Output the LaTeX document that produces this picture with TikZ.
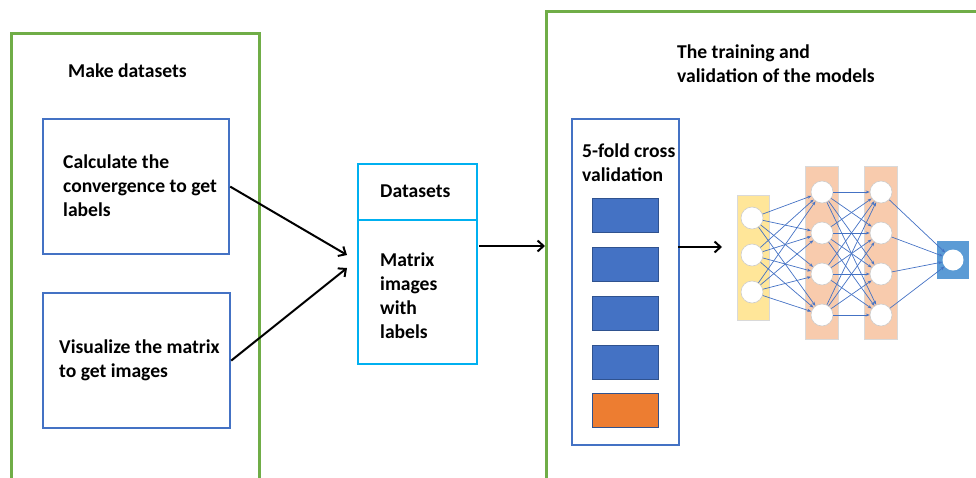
\documentclass[tikz,border=0pt]{standalone}
\usepackage{fontspec}
\setmainfont{Carlito}
\usetikzlibrary{arrows.meta,calc}
\definecolor{grn}{HTML}{70AD47}
\definecolor{bl}{HTML}{4472C4}
\definecolor{cy}{HTML}{00B0F0}
\definecolor{org}{HTML}{ED7D31}
\definecolor{yl}{HTML}{FFE699}
\definecolor{pch}{HTML}{F8CBAD}
\definecolor{obl}{HTML}{5B9BD5}
\definecolor{dbl}{HTML}{2F528F}
\tikzset{
  txt/.style={anchor=base west,align=left,inner sep=0pt,font=\fontsize{19.6}{24}\selectfont\bfseries},
  container/.style={draw=grn,line width=3pt},
  procbox/.style={draw=bl,line width=2.2pt,anchor=north west,inner sep=0pt},
  fold/.style={fill=bl,draw=dbl,line width=0.8pt,anchor=north west,minimum width=66pt,minimum height=34pt,inner sep=0pt},
  flow/.style={line width=2pt,-{Straight Barb[length=6pt,width=11pt,line width=2pt]}},
  neuron/.style={circle,fill=white,draw=black!20,line width=0.6pt,minimum size=22pt,inner sep=0pt},
  layer/.style={anchor=north west,inner sep=0pt,draw=black!15,line width=0.5pt},
  conn/.style={draw=bl,line width=0.7pt,-{Stealth[length=4pt,width=3pt]}},
}
\begin{document}
\begin{tikzpicture}[x=1pt,y=-1pt]
\useasboundingbox (0,0) rectangle (976,477);
% containers
\draw[container] (11,490) -- (11,33) -- (259,33) -- (259,490);
\draw[container] (546,490) -- (546,11) -- (990,11);
\node[txt] (t1) at (68,77) {Make datasets};
\node[txt] (t2) at (677,82) {The training and\\validation of the models};
% left boxes
\node[procbox,minimum width=186pt,minimum height=135pt] (b1) at (42,118) {};
\node[txt] (b1t) at (63,216) {Calculate the\\convergence to get\\labels};
\node[procbox,minimum width=187pt,minimum height=135pt] (b2) at (42,292) {};
\node[txt] (b2t) at (59,377) {Visualize the matrix\\to get images};
% datasets
\node[procbox,draw=cy,minimum width=119pt,minimum height=200pt] (ds) at (357,163) {};
\draw[cy,line width=2.2pt] (357,220) coordinate (dsl) -- (476,220) coordinate (dsr);
\node[txt] (dst) at (380,197) {Datasets};
\node[txt] (dsb) at (380,338) {Matrix\\images\\with\\labels};
\coordinate (in1) at (347,255);
\coordinate (in2) at (347,268);
\draw[flow] (b1.east) -- (in1);
\draw[flow] (b2.east) -- (in2);
\coordinate (dsout) at (479,246);
\coordinate (grin) at (545,246);
\draw[flow] (dsout) -- (grin);
% cross validation
\node[procbox,minimum width=107pt,minimum height=326pt] (cv) at (571,118) {};
\node[txt] (cvt) at (582,181) {5-fold cross\\validation};
\node[fold] (f1) at (592,198) {};
\node[fold] (f2) at (592,247) {};
\node[fold] (f3) at (592,296) {};
\node[fold] (f4) at (592,345) {};
\node[fold,fill=org] (f5) at (592,393) {};
\coordinate (cvout) at (678,247);
\coordinate (nnin) at (722,247);
\draw[flow] (cvout) -- (nnin);
% network
\node[layer,fill=yl,minimum width=32pt,minimum height=125pt] (L0) at (737,195) {};
\node[layer,fill=pch,minimum width=33pt,minimum height=173pt] (L1) at (805,166) {};
\node[layer,fill=pch,minimum width=33pt,minimum height=173pt] (L2) at (864,166) {};
\node[layer,fill=obl,draw=none,minimum width=32pt,minimum height=38pt] (L3) at (937,241) {};
\foreach \i/\y in {1/218,2/255,3/292} \node[neuron] (a\i) at (752,\y) {};
\foreach \i/\y in {1/192,2/233,3/274,4/315} \node[neuron] (h\i) at (822,\y) {};
\foreach \i/\y in {1/192,2/233,3/274,4/315} \node[neuron] (g\i) at (881,\y) {};
\node[neuron,draw=none,minimum size=21pt] (o) at (953,260) {};
\foreach \i in {1,2,3} \foreach \j in {1,2,3,4} \draw[conn] (a\i) -- (h\j);
\foreach \i in {1,2,3,4} \foreach \j in {1,2,3,4} \draw[conn] (h\i) -- (g\j);
\foreach \i in {1,2,3,4} \draw[conn] (g\i) -- (o);
\end{tikzpicture}
\end{document}
